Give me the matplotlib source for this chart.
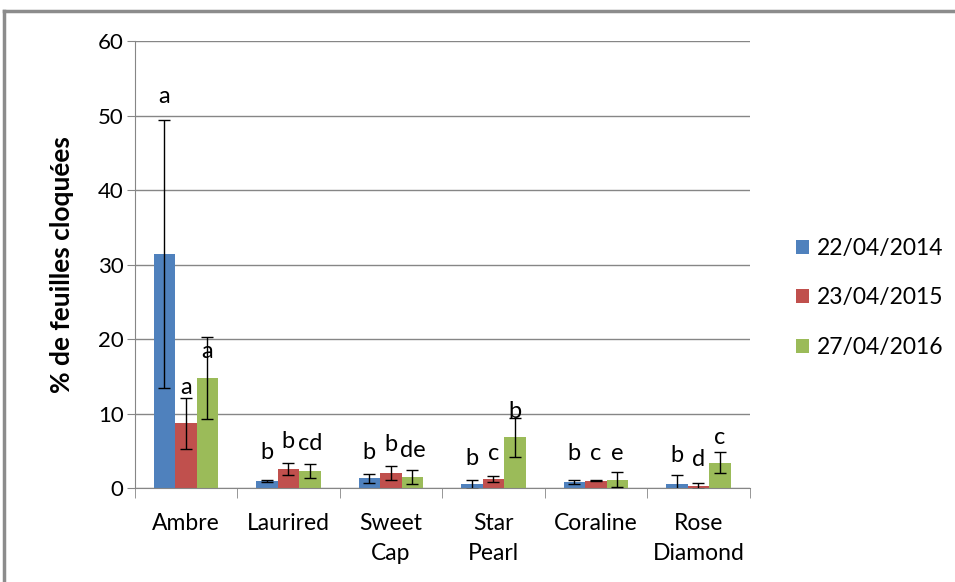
import numpy as np
import matplotlib
matplotlib.use('Agg')
import matplotlib.pyplot as plt
from matplotlib.lines import Line2D

plt.rcParams['font.family'] = ['Lato', 'DejaVu Sans']

CATEGORIES = ['Ambre', 'Laurired', 'Sweet\nCap', 'Star\nPearl', 'Coraline', 'Rose\nDiamond']
SERIES = ['22/04/2014', '23/04/2015', '27/04/2016']

VAL_2014 = [31.4, 0.95, 1.3, 0.5, 0.8, 0.6]
VAL_2015 = [8.7, 2.5, 2.0, 1.2, 1.0, 0.3]
VAL_2016 = [14.8, 2.3, 1.5, 6.8, 1.1, 3.4]

ERR_2014 = [18.0, 0.1, 0.6, 0.6, 0.3, 1.1]
ERR_2015 = [3.4, 0.8, 0.9, 0.4, 0.05, 0.4]
ERR_2016 = [5.5, 0.9, 0.9, 2.6, 1.0, 1.4]

LET_2014 = ['a', 'b', 'b', 'b', 'b', 'b']
LET_2015 = ['a', 'b', 'b', 'c', 'c', 'd']
LET_2016 = ['a', 'cd', 'de', 'b', 'e', 'c']

# where the letters sit (% units)
LET_Y_2014 = [52.5, 4.7, 4.8, 4.0, 4.6, 4.3]
LET_Y_2015 = [13.5, 6.2, 5.8, 4.6, 4.6, 3.8]
LET_Y_2016 = [18.3, 6.0, 5.1, 10.3, 4.6, 6.8]

COLORS = ['#4F81BD', '#C0504D', '#9BBB59']
GRID = '#868686'

fig = plt.figure(figsize=(9.55, 5.82), dpi=100)
ax = fig.add_axes([0.141, 0.1615, 0.644, 0.768])

x = np.arange(len(CATEGORIES))
w = 0.21
vals = [VAL_2014, VAL_2015, VAL_2016]
errs = [ERR_2014, ERR_2015, ERR_2016]
lets = [LET_2014, LET_2015, LET_2016]
lety = [LET_Y_2014, LET_Y_2015, LET_Y_2016]

handles = []
for i in range(3):
    pos = x + (i - 1) * w
    b = ax.bar(pos, vals[i], width=w, color=COLORS[i], zorder=2, label=SERIES[i])
    ax.errorbar(pos, vals[i], yerr=errs[i], fmt='none', ecolor='black',
                elinewidth=1, capsize=4.5, capthick=1, zorder=3)
    for px, t, ty in zip(pos, lets[i], lety[i]):
        ax.text(px, ty, t, ha='center', va='center', fontsize=17, zorder=4)
    handles.append(b)

ax.set_xlim(-0.5, len(CATEGORIES) - 0.5)
ax.set_ylim(0, 60)
ax.set_yticks(np.arange(0, 61, 10))
ax.yaxis.grid(True, color=GRID, linewidth=1)
ax.set_axisbelow(True)

ax.set_xticks(x)
ax.set_xticklabels(CATEGORIES, fontsize=16.5, linespacing=1.55)
ax.set_xticks(np.arange(-0.5, len(CATEGORIES)), minor=True)
ax.tick_params(axis='x', which='major', length=0, pad=18)
ax.tick_params(axis='x', which='minor', length=7, color=GRID, direction='out')
ax.tick_params(axis='y', length=6, color=GRID, labelsize=16, pad=2)

for s in ['top', 'right']:
    ax.spines[s].set_visible(False)
for s in ['left', 'bottom']:
    ax.spines[s].set_color(GRID)

ax.set_ylabel('% de feuilles cloquées', fontsize=19, fontweight='bold', labelpad=17)

fig.legend(handles, SERIES, loc='center left', bbox_to_anchor=(0.812, 0.488),
           frameon=False, fontsize=16.5, handlelength=0.55, handleheight=0.55,
           handletextpad=0.35, labelspacing=1.25)

# Excel chart frame, top and left edges
fig.add_artist(Line2D([0.004, 1.0], [0.981, 0.981], color='#8C8C8C', lw=2.5,
                      transform=fig.transFigure))
fig.add_artist(Line2D([0.004, 0.004], [0.0, 0.981], color='#8C8C8C', lw=2.5,
                      transform=fig.transFigure))

fig.savefig('out.png', dpi=100)
